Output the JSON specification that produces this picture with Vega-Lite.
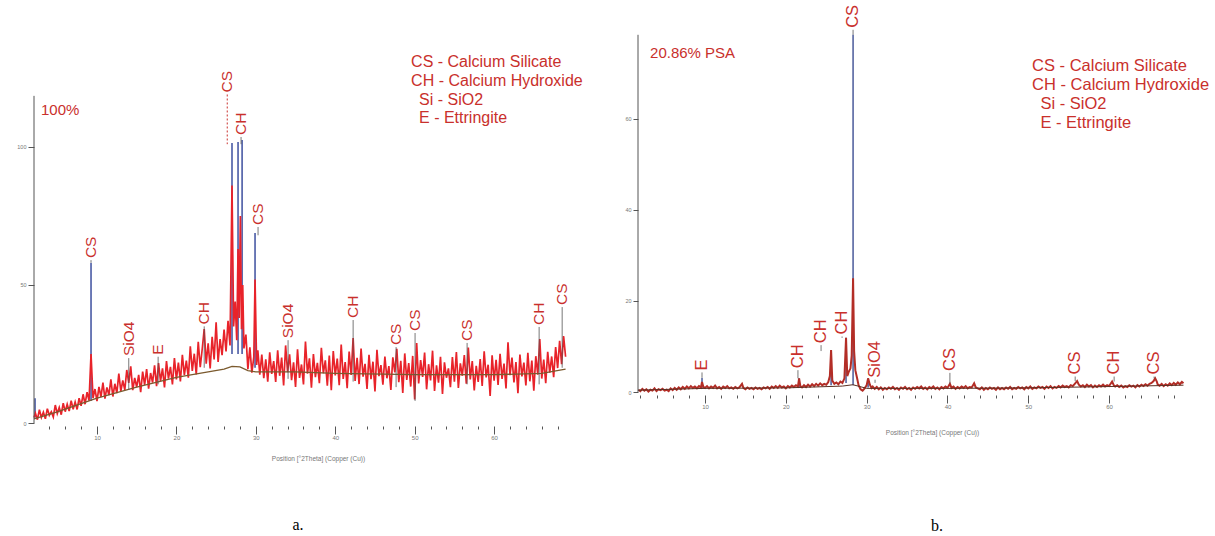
{
"$schema":"https://vega.github.io/schema/vega-lite/v6.json",
"padding":{"left":16,"top":2,"right":0,"bottom":0},
"spacing":33,
"config":{"view":{"stroke":null},"font":"Liberation Sans","axis":{"grid":false,"labelFont":"Liberation Sans","titleFont":"Liberation Sans"}},
"datasets":{
"a_trace":[{"t":2.07,"i":2},{"t":2.25,"i":3.5},{"t":2.5,"i":1.2},{"t":2.75,"i":4.8},{"t":3.0,"i":2.0},{"t":3.25,"i":3.9},{"t":3.5,"i":1.5},{"t":3.75,"i":5.2},{"t":4.0,"i":2.8},{"t":4.25,"i":4.1},{"t":4.5,"i":2.2},{"t":4.75,"i":6.5},{"t":5.0,"i":3.4},{"t":5.25,"i":5.6},{"t":5.5,"i":3.0},{"t":5.75,"i":7.2},{"t":6.0,"i":4.1},{"t":6.25,"i":6.8},{"t":6.5,"i":4.3},{"t":6.75,"i":8.1},{"t":7.0,"i":5.0},{"t":7.25,"i":7.6},{"t":7.5,"i":4.9},{"t":7.75,"i":9.0},{"t":8.0,"i":6.2},{"t":8.25,"i":10.4},{"t":8.5,"i":6.8},{"t":8.75,"i":11.2},{"t":9.0,"i":8.1},{"t":9.25,"i":25},{"t":9.5,"i":9.0},{"t":9.75,"i":12.3},{"t":10.0,"i":7.9},{"t":10.25,"i":13.1},{"t":10.5,"i":9.4},{"t":10.75,"i":14.6},{"t":11.0,"i":8.8},{"t":11.25,"i":12.9},{"t":11.5,"i":10.1},{"t":11.75,"i":15.8},{"t":12.0,"i":9.6},{"t":12.25,"i":14.2},{"t":12.5,"i":10.8},{"t":12.75,"i":17.9},{"t":13.0,"i":11.5},{"t":13.25,"i":15.4},{"t":13.5,"i":12.0},{"t":13.75,"i":19.2},{"t":14.0,"i":14.5},{"t":14.25,"i":20.5},{"t":14.5,"i":11.9},{"t":14.75,"i":16.3},{"t":15.0,"i":13.0},{"t":15.25,"i":17.4},{"t":15.5,"i":11.2},{"t":15.75,"i":18.6},{"t":16.0,"i":13.8},{"t":16.25,"i":19.5},{"t":16.5,"i":12.4},{"t":16.75,"i":18.1},{"t":17.0,"i":14.6},{"t":17.25,"i":20.9},{"t":17.5,"i":13.3},{"t":17.75,"i":21.7},{"t":18.0,"i":15.2},{"t":18.25,"i":19.8},{"t":18.5,"i":12.9},{"t":18.75,"i":22.4},{"t":19.0,"i":16.1},{"t":19.25,"i":20.3},{"t":19.5,"i":14.0},{"t":19.75,"i":23.5},{"t":20.0,"i":15.8},{"t":20.25,"i":21.9},{"t":20.5,"i":15.1},{"t":20.75,"i":24.7},{"t":21.0,"i":17.3},{"t":21.25,"i":22.6},{"t":21.5,"i":16.4},{"t":21.75,"i":27.8},{"t":22.0,"i":18.9},{"t":22.25,"i":25.1},{"t":22.5,"i":17.6},{"t":22.75,"i":29.4},{"t":23.0,"i":20.2},{"t":23.25,"i":26.8},{"t":23.5,"i":34.0},{"t":23.75,"i":21.5},{"t":24.0,"i":28.9},{"t":24.25,"i":19.8},{"t":24.5,"i":31.2},{"t":24.75,"i":23.0},{"t":25.0,"i":36.5},{"t":25.25,"i":22.1},{"t":25.5,"i":30.4},{"t":25.75,"i":24.6},{"t":26.0,"i":33.8},{"t":26.25,"i":25.9},{"t":26.5,"i":37.0},{"t":26.75,"i":28.1},{"t":27.0,"i":86},{"t":27.2,"i":35},{"t":27.4,"i":44},{"t":27.6,"i":30},{"t":27.76,"i":63},{"t":27.9,"i":38},{"t":28.05,"i":75},{"t":28.2,"i":34},{"t":28.35,"i":50},{"t":28.5,"i":27},{"t":28.75,"i":32},{"t":29.0,"i":19.5},{"t":29.25,"i":27.4},{"t":29.5,"i":18.2},{"t":29.75,"i":24.0},{"t":29.9,"i":52},{"t":30.1,"i":21},{"t":30.25,"i":26.3},{"t":30.5,"i":17.5},{"t":30.75,"i":24.8},{"t":31.0,"i":16.2},{"t":31.25,"i":23.1},{"t":31.5,"i":15.0},{"t":31.75,"i":25.6},{"t":32.0,"i":17.8},{"t":32.25,"i":22.4},{"t":32.5,"i":14.9},{"t":32.75,"i":26.3},{"t":33.0,"i":17.1},{"t":33.25,"i":23.7},{"t":33.5,"i":13.6},{"t":33.75,"i":28.1},{"t":34.0,"i":18.4},{"t":34.25,"i":24.9},{"t":34.5,"i":15.5},{"t":34.75,"i":22.0},{"t":35.0,"i":13.1},{"t":35.25,"i":26.7},{"t":35.5,"i":16.3},{"t":35.75,"i":21.2},{"t":36.0,"i":14.0},{"t":36.25,"i":29.5},{"t":36.5,"i":17.9},{"t":36.75,"i":23.4},{"t":37.0,"i":12.8},{"t":37.25,"i":25.0},{"t":37.5,"i":16.6},{"t":37.75,"i":21.8},{"t":38.0,"i":14.4},{"t":38.25,"i":27.2},{"t":38.5,"i":18.0},{"t":38.75,"i":22.7},{"t":39.0,"i":13.5},{"t":39.25,"i":24.4},{"t":39.5,"i":11.9},{"t":39.75,"i":26.1},{"t":40.0,"i":17.2},{"t":40.25,"i":23.3},{"t":40.5,"i":13.7},{"t":40.75,"i":28.4},{"t":41.0,"i":16.0},{"t":41.25,"i":22.1},{"t":41.5,"i":12.6},{"t":41.75,"i":25.9},{"t":42.0,"i":17.4},{"t":42.25,"i":30.8},{"t":42.5,"i":15.2},{"t":42.75,"i":23.6},{"t":43.0,"i":14.1},{"t":43.25,"i":27.0},{"t":43.5,"i":16.8},{"t":43.75,"i":21.4},{"t":44.0,"i":12.3},{"t":44.25,"i":24.7},{"t":44.5,"i":15.9},{"t":44.75,"i":22.2},{"t":45.0,"i":11.4},{"t":45.25,"i":26.5},{"t":45.5,"i":17.0},{"t":45.75,"i":21.0},{"t":46.0,"i":13.9},{"t":46.25,"i":24.1},{"t":46.5,"i":16.2},{"t":46.75,"i":20.6},{"t":47.0,"i":12.0},{"t":47.25,"i":23.8},{"t":47.5,"i":18.3},{"t":47.75,"i":26.9},{"t":48.0,"i":14.8},{"t":48.25,"i":22.5},{"t":48.5,"i":10.9},{"t":48.75,"i":25.2},{"t":49.0,"i":15.6},{"t":49.25,"i":21.7},{"t":49.5,"i":13.2},{"t":49.75,"i":24.3},{"t":50.0,"i":8.5},{"t":50.25,"i":29.0},{"t":50.5,"i":14.3},{"t":50.75,"i":22.8},{"t":51.0,"i":16.7},{"t":51.25,"i":25.5},{"t":51.5,"i":12.2},{"t":51.75,"i":21.3},{"t":52.0,"i":15.4},{"t":52.25,"i":26.2},{"t":52.5,"i":11.6},{"t":52.75,"i":20.9},{"t":53.0,"i":14.6},{"t":53.25,"i":24.0},{"t":53.5,"i":10.5},{"t":53.75,"i":22.0},{"t":54.0,"i":16.4},{"t":54.25,"i":19.8},{"t":54.5,"i":13.0},{"t":54.75,"i":23.9},{"t":55.0,"i":15.0},{"t":55.25,"i":25.7},{"t":55.5,"i":12.7},{"t":55.75,"i":21.6},{"t":56.0,"i":17.1},{"t":56.25,"i":24.6},{"t":56.5,"i":14.2},{"t":56.75,"i":27.3},{"t":57.0,"i":15.8},{"t":57.25,"i":22.4},{"t":57.5,"i":11.8},{"t":57.75,"i":20.7},{"t":58.0,"i":14.9},{"t":58.25,"i":23.2},{"t":58.5,"i":13.4},{"t":58.75,"i":26.0},{"t":59.0,"i":16.5},{"t":59.25,"i":21.1},{"t":59.5,"i":9.8},{"t":59.75,"i":24.5},{"t":60.0,"i":15.3},{"t":60.25,"i":22.9},{"t":60.5,"i":13.8},{"t":60.75,"i":25.1},{"t":61.0,"i":16.0},{"t":61.25,"i":21.5},{"t":61.5,"i":12.5},{"t":61.75,"i":29.2},{"t":62.0,"i":17.3},{"t":62.25,"i":23.7},{"t":62.5,"i":14.7},{"t":62.75,"i":22.1},{"t":63.0,"i":10.8},{"t":63.25,"i":24.8},{"t":63.5,"i":16.9},{"t":63.75,"i":21.9},{"t":64.0,"i":13.6},{"t":64.25,"i":25.4},{"t":64.5,"i":15.1},{"t":64.75,"i":22.6},{"t":65.0,"i":11.7},{"t":65.25,"i":24.2},{"t":65.5,"i":17.5},{"t":65.75,"i":30.4},{"t":66.0,"i":16.1},{"t":66.25,"i":23.0},{"t":66.5,"i":14.4},{"t":66.75,"i":25.8},{"t":67.0,"i":18.2},{"t":67.25,"i":24.1},{"t":67.5,"i":16.6},{"t":67.75,"i":27.5},{"t":68.0,"i":19.9},{"t":68.25,"i":29.8},{"t":68.5,"i":21.3},{"t":68.75,"i":31.5},{"t":69.0,"i":24.0}],
"a_bg":[{"t":2.07,"i":1.5},{"t":5,"i":4},{"t":10,"i":9},{"t":15,"i":13},{"t":20,"i":16.5},{"t":24,"i":18.5},{"t":26,"i":19.5},{"t":27,"i":20.5},{"t":28,"i":20.3},{"t":29,"i":19},{"t":30,"i":18.5},{"t":35,"i":18.5},{"t":40,"i":18},{"t":50,"i":17.5},{"t":60,"i":17.5},{"t":66,"i":18},{"t":69,"i":19.5}],
"a_peaks":[{"t":2.2,"i":9,"i2":2},{"t":9.25,"i":58,"i2":8},{"t":27.0,"i":101.4,"i2":25},{"t":27.76,"i":101.8,"i2":25},{"t":28.27,"i":102.5,"i2":25},{"t":29.9,"i":68.8,"i2":20}],
"a_labels":[{"t":9.25,"i":59,"i2":58,"lab":"CS"},{"t":14.0,"i":23.5,"i2":12,"lab":"SiO4"},{"t":17.7,"i":24,"i2":14,"lab":"E"},{"t":23.5,"i":35,"i2":20,"lab":"CH"},{"t":26.4,"i":119,"i2":101,"lab":"CS"},{"t":28.14,"i":103.6,"i2":101,"lab":"CH"},{"t":30.28,"i":71,"i2":68,"lab":"CS"},{"t":34.06,"i":30,"i2":16,"lab":"SiO4"},{"t":42.25,"i":37.3,"i2":15,"lab":"CH"},{"t":47.66,"i":27.5,"i2":13,"lab":"CS"},{"t":50.05,"i":32.6,"i2":8,"lab":"CS"},{"t":56.6,"i":29,"i2":14,"lab":"CS"},{"t":65.67,"i":34.8,"i2":14,"lab":"CH"},{"t":68.57,"i":42,"i2":20,"lab":"CS"}],
"a_axis":[{"t":2.07,"i":118.5,"i2":0}],
"a_head":[{"t":2.95,"i":113.4,"txt":"100%"}],
"a_legend":[{"t":49.55,"i":130.8,"txt":"CS - Calcium Silicate"},{"t":49.55,"i":123.9,"txt":"CH - Calcium Hydroxide"},{"t":50.55,"i":117.0,"txt":"Si - SiO2"},{"t":50.55,"i":110.4,"txt":"E - Ettringite"}],
"b_trace":[{"t":1.75,"i":0.5},{"t":2.0,"i":0.2},{"t":2.25,"i":0.7},{"t":2.5,"i":0.3},{"t":2.75,"i":0.6},{"t":3.0,"i":0.1},{"t":3.25,"i":0.5},{"t":3.5,"i":0.3},{"t":3.75,"i":0.8},{"t":4.0,"i":0.2},{"t":4.25,"i":0.6},{"t":4.5,"i":0.4},{"t":4.75,"i":0.7},{"t":5.0,"i":0.3},{"t":5.25,"i":0.5},{"t":5.5,"i":0.2},{"t":5.75,"i":0.8},{"t":6.0,"i":0.4},{"t":6.25,"i":0.9},{"t":6.5,"i":0.5},{"t":6.75,"i":1.0},{"t":7.0,"i":0.6},{"t":7.25,"i":1.1},{"t":7.5,"i":0.7},{"t":7.75,"i":1.2},{"t":8.0,"i":0.8},{"t":8.25,"i":1.3},{"t":8.5,"i":0.9},{"t":8.75,"i":1.2},{"t":9.0,"i":0.8},{"t":9.25,"i":1.3},{"t":9.5,"i":1.0},{"t":9.63,"i":2.2},{"t":9.8,"i":1.1},{"t":10.0,"i":0.9},{"t":10.25,"i":1.3},{"t":10.5,"i":0.8},{"t":10.75,"i":1.2},{"t":11.0,"i":0.9},{"t":11.25,"i":1.4},{"t":11.5,"i":0.8},{"t":11.75,"i":1.1},{"t":12.0,"i":0.7},{"t":12.25,"i":1.2},{"t":12.5,"i":0.9},{"t":12.75,"i":1.3},{"t":13.0,"i":0.8},{"t":13.25,"i":1.0},{"t":13.5,"i":0.7},{"t":13.75,"i":1.1},{"t":14.0,"i":0.8},{"t":14.25,"i":1.0},{"t":14.58,"i":1.8},{"t":14.75,"i":0.9},{"t":15.0,"i":0.6},{"t":15.25,"i":1.0},{"t":15.5,"i":0.7},{"t":15.75,"i":0.9},{"t":16.0,"i":0.6},{"t":16.25,"i":1.0},{"t":16.5,"i":0.7},{"t":16.75,"i":0.9},{"t":17.0,"i":0.6},{"t":17.25,"i":1.0},{"t":17.5,"i":0.8},{"t":17.75,"i":1.1},{"t":18.0,"i":0.7},{"t":18.25,"i":1.2},{"t":18.5,"i":0.9},{"t":18.75,"i":1.3},{"t":19.0,"i":0.9},{"t":19.25,"i":1.4},{"t":19.5,"i":1.0},{"t":19.75,"i":1.2},{"t":20.0,"i":0.8},{"t":20.25,"i":1.3},{"t":20.5,"i":1.0},{"t":20.75,"i":1.4},{"t":21.0,"i":1.1},{"t":21.25,"i":1.5},{"t":21.5,"i":1.2},{"t":21.64,"i":3.0},{"t":21.8,"i":1.3},{"t":22.0,"i":1.0},{"t":22.25,"i":1.5},{"t":22.5,"i":1.1},{"t":22.75,"i":1.6},{"t":23.0,"i":1.2},{"t":23.25,"i":1.7},{"t":23.5,"i":1.3},{"t":23.75,"i":1.8},{"t":24.0,"i":1.4},{"t":24.25,"i":1.9},{"t":24.5,"i":1.5},{"t":24.75,"i":1.8},{"t":25.0,"i":1.6},{"t":25.25,"i":2.2},{"t":25.45,"i":3.5},{"t":25.6,"i":9.2},{"t":25.75,"i":2.5},{"t":26.0,"i":1.8},{"t":26.25,"i":2.1},{"t":26.5,"i":1.7},{"t":26.75,"i":2.3},{"t":27.0,"i":2.0},{"t":27.25,"i":3.0},{"t":27.45,"i":11.9},{"t":27.6,"i":3.5},{"t":27.8,"i":4.5},{"t":28.0,"i":5.2},{"t":28.15,"i":8},{"t":28.32,"i":25},{"t":28.45,"i":9},{"t":28.6,"i":4.8},{"t":28.8,"i":3.2},{"t":29.0,"i":1.5},{"t":29.25,"i":0.6},{"t":29.5,"i":0.3},{"t":29.75,"i":0.8},{"t":30.0,"i":1.5},{"t":30.18,"i":3.0},{"t":30.4,"i":1.6},{"t":30.6,"i":0.9},{"t":30.75,"i":1.2},{"t":31.0,"i":0.7},{"t":31.25,"i":1.1},{"t":31.5,"i":0.6},{"t":31.75,"i":1.0},{"t":32.0,"i":0.5},{"t":32.25,"i":0.9},{"t":32.5,"i":0.6},{"t":32.75,"i":1.0},{"t":33.0,"i":0.7},{"t":33.25,"i":1.1},{"t":33.5,"i":0.6},{"t":33.75,"i":0.9},{"t":34.0,"i":0.5},{"t":34.25,"i":1.0},{"t":34.5,"i":0.7},{"t":34.75,"i":1.1},{"t":35.0,"i":0.6},{"t":35.25,"i":0.9},{"t":35.5,"i":0.5},{"t":35.75,"i":1.0},{"t":36.0,"i":0.7},{"t":36.25,"i":1.1},{"t":36.5,"i":0.8},{"t":36.75,"i":1.2},{"t":37.0,"i":0.7},{"t":37.25,"i":1.0},{"t":37.5,"i":0.6},{"t":37.75,"i":1.1},{"t":38.0,"i":0.8},{"t":38.25,"i":1.2},{"t":38.5,"i":0.7},{"t":38.75,"i":1.0},{"t":39.0,"i":0.6},{"t":39.25,"i":1.1},{"t":39.5,"i":0.8},{"t":39.75,"i":1.2},{"t":40.0,"i":0.9},{"t":40.3,"i":1.8},{"t":40.5,"i":0.9},{"t":40.75,"i":1.2},{"t":41.0,"i":0.7},{"t":41.25,"i":1.1},{"t":41.5,"i":0.8},{"t":41.75,"i":1.2},{"t":42.0,"i":0.9},{"t":42.25,"i":1.3},{"t":42.5,"i":0.8},{"t":42.75,"i":1.1},{"t":43.0,"i":1.0},{"t":43.3,"i":1.9},{"t":43.5,"i":1.0},{"t":43.75,"i":0.8},{"t":44.0,"i":0.6},{"t":44.25,"i":1.0},{"t":44.5,"i":0.5},{"t":44.75,"i":0.9},{"t":45.0,"i":0.6},{"t":45.25,"i":1.0},{"t":45.5,"i":0.7},{"t":45.75,"i":0.9},{"t":46.0,"i":0.5},{"t":46.25,"i":1.0},{"t":46.5,"i":0.6},{"t":46.75,"i":0.9},{"t":47.0,"i":0.6},{"t":47.25,"i":1.0},{"t":47.5,"i":0.7},{"t":47.75,"i":1.1},{"t":48.0,"i":0.6},{"t":48.25,"i":0.9},{"t":48.5,"i":0.7},{"t":48.75,"i":1.1},{"t":49.0,"i":0.8},{"t":49.25,"i":1.0},{"t":49.5,"i":0.6},{"t":49.75,"i":1.1},{"t":50.0,"i":0.8},{"t":50.25,"i":1.2},{"t":50.5,"i":0.7},{"t":50.75,"i":1.0},{"t":51.0,"i":0.8},{"t":51.25,"i":1.2},{"t":51.5,"i":0.9},{"t":51.75,"i":1.1},{"t":52.0,"i":0.7},{"t":52.25,"i":1.2},{"t":52.5,"i":0.9},{"t":52.75,"i":1.3},{"t":53.0,"i":0.8},{"t":53.25,"i":1.1},{"t":53.5,"i":0.9},{"t":53.75,"i":1.3},{"t":54.0,"i":1.0},{"t":54.25,"i":1.4},{"t":54.5,"i":1.1},{"t":54.75,"i":1.3},{"t":55.0,"i":1.0},{"t":55.25,"i":1.5},{"t":55.5,"i":1.3},{"t":55.75,"i":1.8},{"t":56.04,"i":2.4},{"t":56.25,"i":1.6},{"t":56.5,"i":1.2},{"t":56.75,"i":1.5},{"t":57.0,"i":1.1},{"t":57.25,"i":1.6},{"t":57.5,"i":1.2},{"t":57.75,"i":1.5},{"t":58.0,"i":1.0},{"t":58.25,"i":1.4},{"t":58.5,"i":1.1},{"t":58.75,"i":1.5},{"t":59.0,"i":1.2},{"t":59.25,"i":1.6},{"t":59.5,"i":1.2},{"t":59.75,"i":1.5},{"t":60.0,"i":1.3},{"t":60.37,"i":2.3},{"t":60.6,"i":1.4},{"t":60.75,"i":1.2},{"t":61.0,"i":1.5},{"t":61.25,"i":1.1},{"t":61.5,"i":1.4},{"t":61.75,"i":1.0},{"t":62.0,"i":1.3},{"t":62.25,"i":1.1},{"t":62.5,"i":1.5},{"t":62.75,"i":1.2},{"t":63.0,"i":1.4},{"t":63.25,"i":1.0},{"t":63.5,"i":1.5},{"t":63.75,"i":1.2},{"t":64.0,"i":1.6},{"t":64.25,"i":1.3},{"t":64.5,"i":1.7},{"t":64.75,"i":1.4},{"t":65.0,"i":1.8},{"t":65.25,"i":2.0},{"t":65.5,"i":2.4},{"t":65.7,"i":3.0},{"t":65.9,"i":2.3},{"t":66.0,"i":1.7},{"t":66.25,"i":1.4},{"t":66.5,"i":1.8},{"t":66.75,"i":1.3},{"t":67.0,"i":1.7},{"t":67.25,"i":1.4},{"t":67.5,"i":1.9},{"t":67.75,"i":1.5},{"t":68.0,"i":2.0},{"t":68.25,"i":1.6},{"t":68.5,"i":2.1},{"t":68.75,"i":1.7},{"t":69.0,"i":2.2},{"t":69.2,"i":1.9}],
"b_bg":[{"t":1.71,"i":0.4},{"t":10,"i":0.8},{"t":20,"i":0.9},{"t":27,"i":1.3},{"t":28.3,"i":1.6},{"t":30,"i":0.8},{"t":40,"i":0.8},{"t":50,"i":0.9},{"t":60,"i":1.2},{"t":69.2,"i":1.5}],
"b_peaks":[{"t":9.63,"i":3.1,"i2":0.8},{"t":21.64,"i":3.0,"i2":1.0},{"t":25.6,"i":9.2,"i2":1.5},{"t":27.45,"i":11.9,"i2":2},{"t":28.32,"i":78.5,"i2":1.5},{"t":30.18,"i":3,"i2":1}],
"b_labels":[{"t":9.63,"i":4.3,"i2":3.1,"lab":"E"},{"t":21.5,"i":4.8,"i2":3,"lab":"CH"},{"t":24.36,"i":10.3,"i2":9,"lab":"CH"},{"t":26.96,"i":12.2,"i2":11.9,"lab":"CH"},{"t":28.32,"i":79.6,"i2":78.5,"lab":"CS"},{"t":31.04,"i":2.7,"i2":2,"lab":"SiO4"},{"t":40.3,"i":4.2,"i2":1.8,"lab":"CS"},{"t":55.8,"i":3.4,"i2":2.4,"lab":"CS"},{"t":60.62,"i":3.4,"i2":2.3,"lab":"CH"},{"t":65.57,"i":3.4,"i2":3,"lab":"CS"}],
"b_axis":[{"t":1.71,"i":78.5,"i2":0}],
"b_head":[{"t":3.2,"i":74.5,"txt":"20.86% PSA"}],
"b_legend":[{"t":50.47,"i":71.65,"txt":"CS - Calcium Silicate"},{"t":50.47,"i":67.47,"txt":"CH - Calcium Hydroxide"},{"t":51.5,"i":63.3,"txt":"Si - SiO2"},{"t":51.5,"i":59.12,"txt":"E - Ettringite"}]
},
"hconcat":[
{
"width":557,"height":421,
"title":{"text":"a.","orient":"bottom","offset":55,"dx":-14.5,"font":"Liberation Serif","fontSize":16,"fontWeight":"normal","color":"#000000","anchor":"middle"},
"encoding":{
"x":{"field":"t","type":"quantitative","scale":{"domain":[2.07,72.2],"nice":false,"zero":false},
"axis":{"values":[4,6,8,10,12,14,16,18,20,22,24,26,28,30,32,34,36,38,40,42,44,46,48,50,52,54,56,58,60,62,64,66,68],"domain":false,"offset":3,"tickColor":"#555555","tickSize":{"condition":{"test":"datum.value % 10 === 0","value":8},"value":3},"labelExpr":"datum.value % 10 === 0 ? datum.label : ''","labelFontSize":6,"labelColor":"#777777","labelPadding":0,"labelOverlap":false,"labelFlush":false,"title":"Position [°2Theta] (Copper (Cu))","titleFontSize":6.5,"titleFontWeight":"normal","titleColor":"#777777","titleX":284,"titleY":32,"titleBaseline":"middle","titleAlign":"center"}},
"y":{"field":"i","type":"quantitative","scale":{"domain":[0,152.5],"nice":false,"zero":false},
"axis":{"values":[0,50,100],"domain":false,"title":null,"tickSize":6,"tickColor":"#555555","labelFontSize":5.5,"labelColor":"#777777","labelPadding":2}}
},
"layer":[
{"data":{"name":"a_peaks"},"mark":{"type":"rule","color":"#3d4f9f","strokeWidth":1.5},"encoding":{"y2":{"field":"i2"}}},
{"data":{"name":"a_trace"},"mark":{"type":"line","color":"#e8232a","strokeWidth":1.7}},
{"data":{"name":"a_bg"},"mark":{"type":"line","color":"#7b5a2e","strokeWidth":1.3}},
{"data":{"name":"a_labels"},"transform":[{"filter":"datum.i < 110"}],"mark":{"type":"rule","color":"#555555","strokeWidth":0.8},"encoding":{"y2":{"field":"i2"}}},
{"data":{"name":"a_labels"},"transform":[{"filter":"datum.i >= 110"}],"mark":{"type":"rule","color":"#c9302c","strokeWidth":1,"strokeDash":[2,2]},"encoding":{"y2":{"field":"i2"}}},
{"data":{"name":"a_labels"},"mark":{"type":"text","angle":270,"align":"left","baseline":"middle","dx":2,"fontSize":15.5,"color":"#c9302c"},"encoding":{"text":{"field":"lab"}}},
{"data":{"name":"a_axis"},"mark":{"type":"rule","color":"#555555","strokeWidth":1},"encoding":{"y2":{"field":"i2"}}},
{"data":{"name":"a_head"},"mark":{"type":"text","align":"left","baseline":"middle","fontSize":15,"color":"#c9302c"},"encoding":{"text":{"field":"txt"}}},
{"data":{"name":"a_legend"},"mark":{"type":"text","align":"left","baseline":"middle","fontSize":16,"color":"#c9302c"},"encoding":{"text":{"field":"txt"}}}
]
},
{
"width":577,"height":390,
"title":{"text":"b.","orient":"bottom","offset":82,"dx":10.5,"font":"Liberation Serif","fontSize":16,"fontWeight":"normal","color":"#000000","anchor":"middle"},
"encoding":{
"x":{"field":"t","type":"quantitative","scale":{"domain":[1.71,73.1],"nice":false,"zero":false},
"axis":{"values":[2,4,6,8,10,12,14,16,18,20,22,24,26,28,30,32,34,36,38,40,42,44,46,48,50,52,54,56,58,60,62,64,66,68],"domain":false,"offset":3,"tickColor":"#555555","tickSize":{"condition":{"test":"datum.value % 10 === 0","value":8},"value":3},"labelExpr":"datum.value % 10 === 0 ? datum.label : ''","labelFontSize":6,"labelColor":"#777777","labelPadding":0,"labelOverlap":false,"labelFlush":false,"title":"Position [°2Theta] (Copper (Cu))","titleFontSize":6.5,"titleFontWeight":"normal","titleColor":"#777777","titleX":294,"titleY":37,"titleBaseline":"middle","titleAlign":"center"}},
"y":{"field":"i","type":"quantitative","scale":{"domain":[0,85.71],"nice":false,"zero":false},
"axis":{"values":[0,20,40,60],"domain":false,"title":null,"tickSize":5,"tickColor":"#555555","labelFontSize":5.5,"labelColor":"#777777","labelPadding":2}}
},
"layer":[
{"data":{"name":"b_peaks"},"mark":{"type":"rule","color":"#4a5a9a","strokeWidth":1.5},"encoding":{"y2":{"field":"i2"}}},
{"data":{"name":"b_trace"},"mark":{"type":"line","color":"#b32d26","strokeWidth":2}},
{"data":{"name":"b_bg"},"mark":{"type":"line","color":"#5a2f22","strokeWidth":1}},
{"data":{"name":"b_labels"},"mark":{"type":"rule","color":"#555555","strokeWidth":0.8},"encoding":{"y2":{"field":"i2"}}},
{"data":{"name":"b_labels"},"mark":{"type":"text","angle":270,"align":"left","baseline":"middle","dx":2,"fontSize":16.5,"color":"#c9302c"},"encoding":{"text":{"field":"lab"}}},
{"data":{"name":"b_axis"},"mark":{"type":"rule","color":"#555555","strokeWidth":1},"encoding":{"y2":{"field":"i2"}}},
{"data":{"name":"b_head"},"mark":{"type":"text","align":"left","baseline":"middle","fontSize":15,"color":"#c9302c"},"encoding":{"text":{"field":"txt"}}},
{"data":{"name":"b_legend"},"mark":{"type":"text","align":"left","baseline":"middle","fontSize":16.5,"color":"#c9302c"},"encoding":{"text":{"field":"txt"}}}
]
}
]
}
